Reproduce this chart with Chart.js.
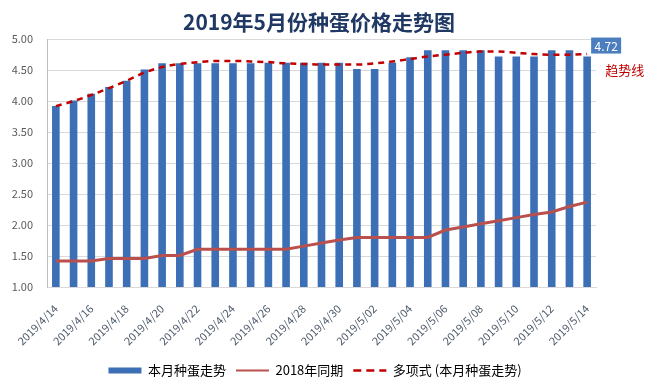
<!DOCTYPE html>
<html>
<head>
<meta charset="utf-8">
<script src="https://cdn.jsdelivr.net/npm/chart.js@4.4.1/dist/chart.umd.min.js"></script>
<style>
html,body{margin:0;padding:0;background:#fff;}
#wrap{width:650px;height:391px;}
</style>
</head>
<body>
<div id="wrap"><canvas id="c" width="650" height="391"></canvas></div>
<script>
const categories = [
  "2019/4/14","2019/4/15","2019/4/16","2019/4/17","2019/4/18","2019/4/19","2019/4/20","2019/4/21",
  "2019/4/22","2019/4/23","2019/4/24","2019/4/25","2019/4/26","2019/4/27","2019/4/28","2019/4/29",
  "2019/4/30","2019/5/01","2019/5/02","2019/5/03","2019/5/04","2019/5/05","2019/5/06","2019/5/07",
  "2019/5/08","2019/5/09","2019/5/10","2019/5/11","2019/5/12","2019/5/13","2019/5/14"
];
const thisMonth = [
  3.92,4.01,4.12,4.23,4.33,4.51,4.61,4.61,4.61,4.61,4.61,4.61,4.62,4.62,4.62,4.62,
  4.62,4.52,4.52,4.62,4.71,4.82,4.82,4.82,4.82,4.72,4.72,4.72,4.82,4.82,4.72
];
const lastYear = [
  1.42,1.42,1.42,1.46,1.46,1.46,1.51,1.51,1.61,1.61,1.61,1.61,1.61,1.61,1.66,1.71,
  1.76,1.80,1.80,1.80,1.80,1.80,1.92,1.97,2.02,2.07,2.12,2.17,2.21,2.30,2.37
];
const trendLine = [
  3.92,4.00,4.10,4.21,4.33,4.46,4.55,4.60,4.63,4.65,4.65,4.64,4.63,4.61,4.60,4.59,
  4.59,4.59,4.61,4.64,4.68,4.72,4.75,4.78,4.80,4.80,4.78,4.76,4.75,4.75,4.76
];
const yTicks = [1.00,1.50,2.00,2.50,3.00,3.50,4.00,4.50,5.00];
const seriesNames = ["本月种蛋走势","2018年同期","多项式 (本月种蛋走势)"];
const titleText = "2019年5月份种蛋价格走势图";
const trendNote = "趋势线";

const FONT = "'Noto Sans CJK SC','Noto Sans','Liberation Sans',sans-serif";
const BAR = '#3c6fb5';
const RED = '#b9504d';
const DARKRED = '#c00000';

const annotatePlugin = {
  id: 'annotate',
  afterLayout(chart) {
    if (chart.titleBlock) { chart.titleBlock.left = 0; chart.titleBlock.right = 638; }
    if (chart.legend) { chart.legend.left = 0; chart.legend.right = 630; }
  },
  afterDatasetsDraw(chart) {
    const ctx = chart.ctx;
    const bm = chart.getDatasetMeta(0);
    const lastBar = bm.data[bm.data.length - 1];
    const tm = chart.getDatasetMeta(2);
    const lastTrend = tm.data[tm.data.length - 1];
    ctx.save();
    const bx = lastBar.x + 19, by = lastBar.y - 11;
    ctx.fillStyle = '#4a7ebf';
    ctx.fillRect(bx - 15, by - 8, 30, 16);
    ctx.fillStyle = '#ffffff';
    ctx.font = '12px ' + FONT;
    ctx.textAlign = 'center';
    ctx.textBaseline = 'middle';
    ctx.fillText(thisMonth[thisMonth.length - 1].toFixed(2), bx, by + 0.5);
    ctx.fillStyle = DARKRED;
    ctx.font = '13px ' + FONT;
    ctx.textAlign = 'left';
    ctx.fillText(trendNote, lastTrend.x + 18, lastTrend.y + 16);
    ctx.restore();
  }
};

new Chart(document.getElementById('c'), {
  data: {
    labels: categories,
    datasets: [
      {
        type: 'bar',
        label: seriesNames[0],
        data: thisMonth,
        backgroundColor: BAR,
        categoryPercentage: 1,
        barPercentage: 0.43,
        order: 3
      },
      {
        type: 'line',
        label: seriesNames[1],
        data: lastYear,
        borderColor: RED,
        borderWidth: 3,
        pointRadius: 0,
        tension: 0,
        order: 2
      },
      {
        type: 'line',
        label: seriesNames[2],
        data: trendLine,
        borderColor: DARKRED,
        borderWidth: 2.5,
        borderDash: [6, 5],
        pointRadius: 0,
        cubicInterpolationMode: 'monotone',
        order: 1
      }
    ]
  },
  options: {
    responsive: false,
    animation: false,
    devicePixelRatio: 1,
    layout: { padding: { left: 0, right: 54, top: 0, bottom: 4 } },
    plugins: {
      title: {
        display: true,
        text: titleText,
        color: '#1f3864',
        font: { family: FONT, size: 21, weight: 'bold' },
        padding: { top: 9, bottom: 5 }
      },
      legend: {
        position: 'bottom',
        labels: {
          usePointStyle: true,
          pointStyleWidth: 33,
          boxHeight: 6,
          padding: 10,
          color: '#404040',
          font: { family: FONT, size: 13 },
          generateLabels() {
            return [
              { text: seriesNames[0], pointStyle: 'rect', fillStyle: BAR, strokeStyle: BAR, lineWidth: 0, datasetIndex: 0 },
              { text: seriesNames[1], pointStyle: 'line', fillStyle: RED, strokeStyle: RED, lineWidth: 2, datasetIndex: 1 },
              { text: seriesNames[2], pointStyle: 'line', fillStyle: DARKRED, strokeStyle: DARKRED, lineWidth: 2.5, lineDash: [8, 5], datasetIndex: 2 }
            ];
          }
        }
      },
      tooltip: { enabled: false }
    },
    scales: {
      x: {
        grid: { display: false },
        border: { display: true, color: '#d9d9d9' },
        ticks: {
          autoSkip: false,
          minRotation: 45,
          maxRotation: 45,
          padding: 7,
          color: '#4f5b6b',
          font: { family: FONT, size: 11 },
          callback(v, i) { return i % 2 === 0 ? categories[i] : ''; }
        },
        afterFit(s) { s.height = 67; }
      },
      y: {
        min: yTicks[0],
        max: yTicks[yTicks.length - 1],
        afterBuildTicks(s) { s.ticks = yTicks.map(v => ({ value: v })); },
        grid: { color: '#d9d9d9', drawTicks: false },
        border: { display: true, color: '#bfbfbf' },
        ticks: {
          padding: 14,
          color: '#595959',
          font: { family: FONT, size: 11 },
          callback(v) { return Number(v).toFixed(2); }
        },
        afterFit(s) { s.width = 47; }
      }
    }
  },
  plugins: [annotatePlugin]
});
</script>
</body>
</html>
